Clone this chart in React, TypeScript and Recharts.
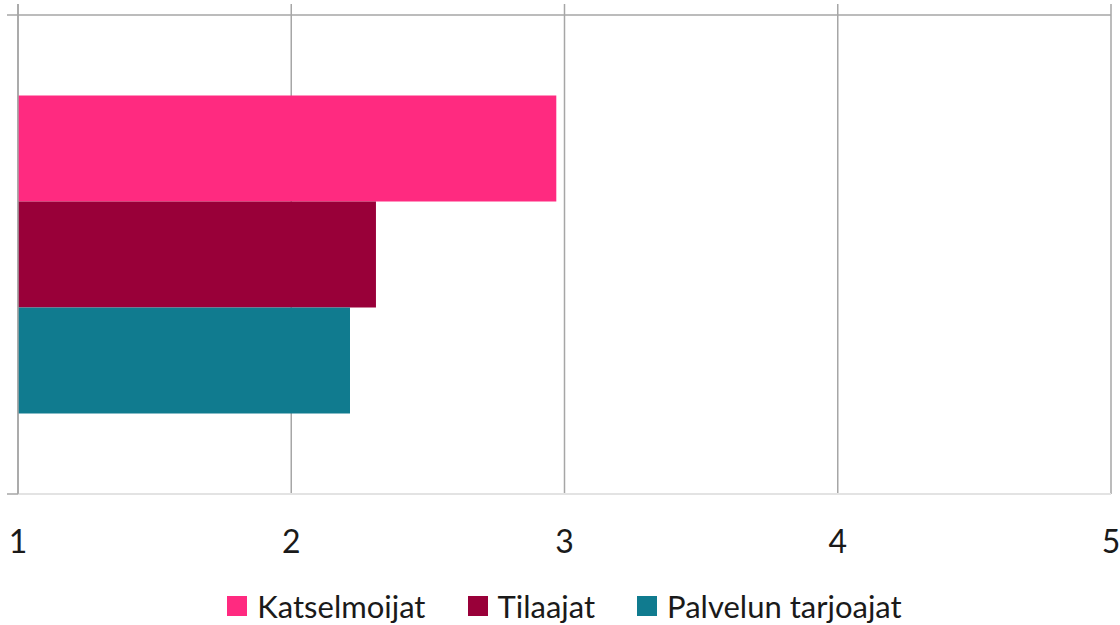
import React from 'react'
import { BarChart, Bar, XAxis, YAxis, CartesianGrid, Legend, ReferenceLine } from 'recharts'

// One question, three respondent groups, mean score on a 1-5 scale.
const CATEGORIES = ['Keskiarvo']
const KATSELMOIJAT = [2.97]
const TILAAJAT = [2.31]
const PALVELUN_TARJOAJAT = [2.215]
const X_TICKS = [1, 2, 3, 4, 5]

const SERIES = [
  { key: 'katselmoijat', name: 'Katselmoijat', color: '#ff2a80', values: KATSELMOIJAT },
  { key: 'tilaajat', name: 'Tilaajat', color: '#990039', values: TILAAJAT },
  { key: 'palvelun', name: 'Palvelun tarjoajat', color: '#107b8f', values: PALVELUN_TARJOAJAT },
]

const DATA = CATEGORIES.map((name, i) => {
  const row: Record<string, string | number> = { name }
  SERIES.forEach((s) => {
    row[s.key] = s.values[i]
  })
  return row
})

const FONT = 'Lato, "Open Sans", sans-serif'
const GRID = '#a6a6a6'

// legend keeps the series order (recharts sorts it by name otherwise)
function LegendContent() {
  return (
    <div
      style={{
        display: 'flex',
        justifyContent: 'center',
        alignItems: 'center',
        height: 50,
        paddingTop: 12,
        paddingLeft: 18,
        boxSizing: 'border-box',
        fontFamily: FONT,
        fontSize: 31,
        color: '#1a1a1a',
      }}
    >
      {SERIES.map((s, i) => (
        <div key={s.key} style={{ display: 'flex', alignItems: 'center', marginRight: i < SERIES.length - 1 ? 42 : 0 }}>
          <span style={{ width: 20, height: 20, background: s.color, marginRight: 10, display: 'inline-block' }} />
          <span>{s.name}</span>
        </div>
      ))}
    </div>
  )
}

export default function App() {
  return (
    <div style={{ position: 'absolute', left: 0, top: 0, width: 1120, height: 625, background: '#fff' }}>
      <BarChart
        width={1120}
        height={625}
        data={DATA}
        layout="vertical"
        margin={{ top: 4, right: 9, left: 0, bottom: 0 }}
        barCategoryGap="16.8%"
        barGap={0}
      >
        <CartesianGrid horizontal={false} stroke={GRID} strokeWidth={1.5} />
        <XAxis
          type="number"
          domain={[1, 5]}
          ticks={X_TICKS}
          interval={0}
          height={81}
          axisLine={{ stroke: '#e3e3e3', strokeWidth: 2 }}
          tickLine={false}
          tickSize={6}
          tickMargin={30}
          tick={{ fill: '#1a1a1a', fontSize: 32, fontFamily: FONT }}
        />
        <YAxis
          type="category"
          dataKey="name"
          width={18}
          padding={{ top: 11, bottom: 0 }}
          axisLine={{ stroke: GRID, strokeWidth: 1.5 }}
          tickLine={false}
          tick={false}
        />
        <ReferenceLine
          y={CATEGORIES[0]}
          position="start"
          stroke={GRID}
          strokeWidth={1.5}
          shape={(p: any) => (
            <line x1={p.x1 - 11} y1={p.y1} x2={p.x2} y2={p.y2} stroke={GRID} strokeWidth={1.5} />
          )}
        />
        <ReferenceLine
          y={CATEGORIES[0]}
          position="end"
          stroke={GRID}
          strokeWidth={1.5}
          shape={(p: any) => (
            <line x1={p.x1 - 11} y1={p.y1} x2={p.x1} y2={p.y1} stroke={GRID} strokeWidth={1.5} />
          )}
        />
        <Legend verticalAlign="bottom" content={<LegendContent />} wrapperStyle={{ height: 50 }} />
        {SERIES.map((s) => (
          <Bar key={s.key} dataKey={s.key} name={s.name} fill={s.color} isAnimationActive={false} />
        ))}
      </BarChart>
    </div>
  )
}
